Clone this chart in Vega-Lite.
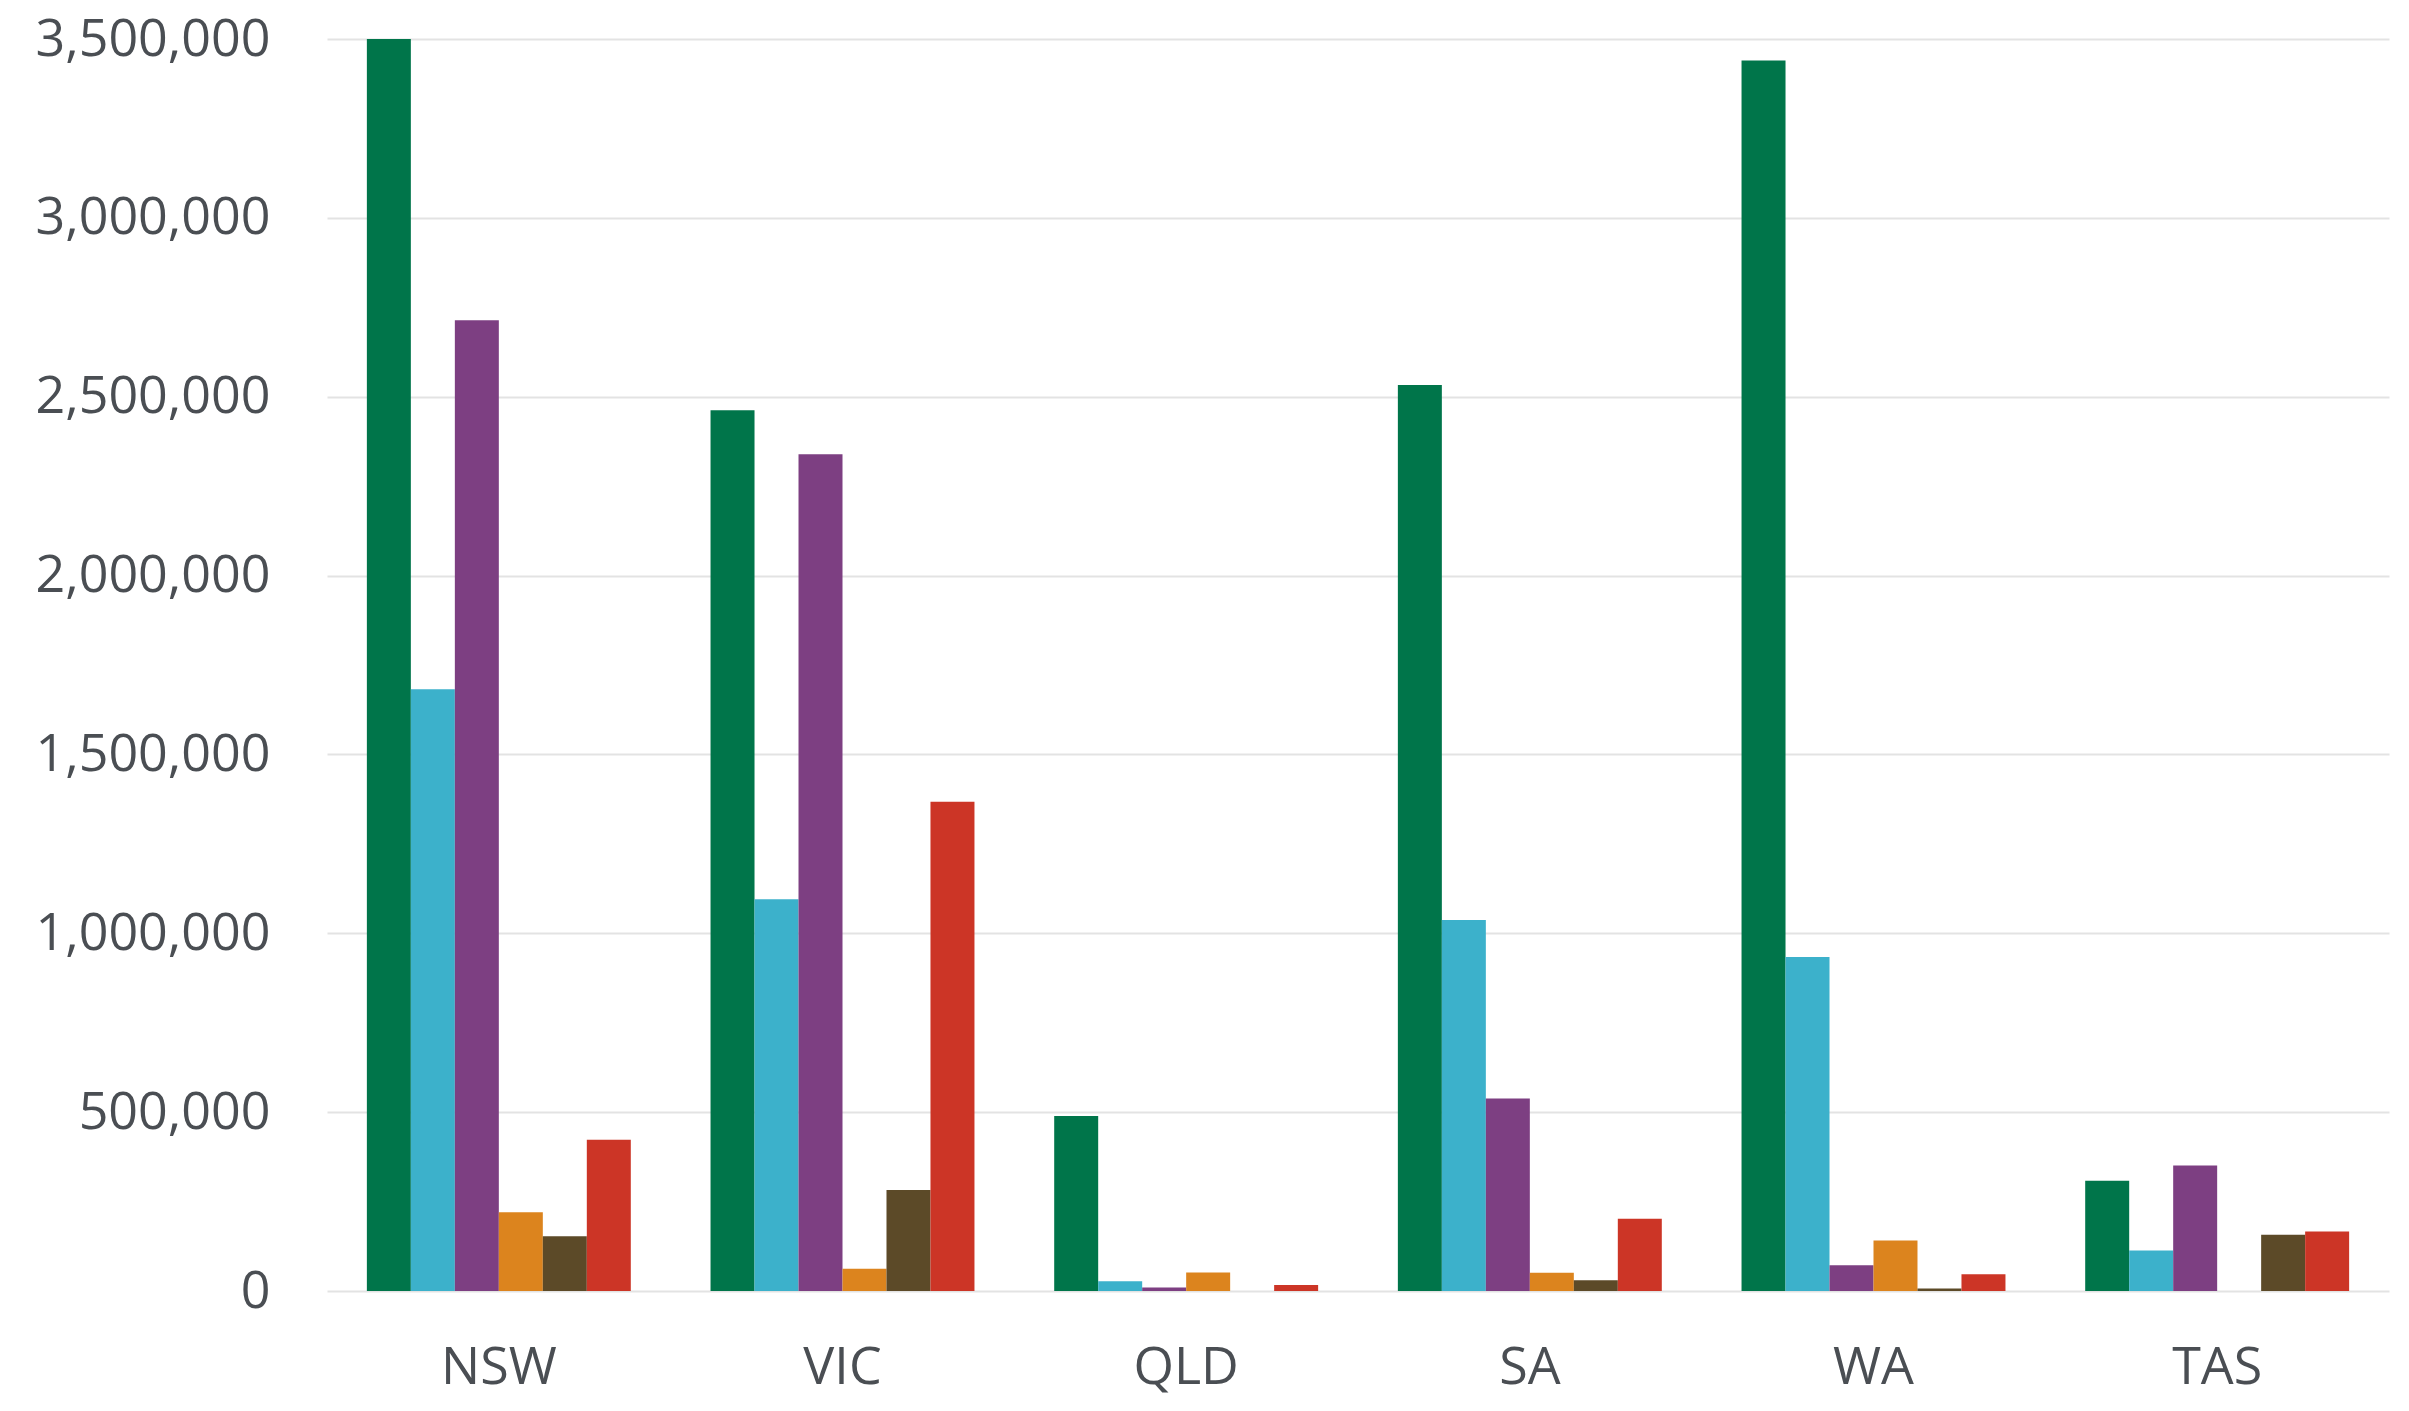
{
  "$schema": "https://vega.github.io/schema/vega-lite/v6.json",
  "width": 2062,
  "height": 1252,
  "autosize": {"type": "none"},
  "padding": {"left": 327, "top": 39, "right": 20, "bottom": 120},
  "background": "#ffffff",
  "config": {
    "view": {"stroke": null},
    "font": "Open Sans"
  },
  "data": {
    "values": [
      {"state": "NSW", "series": "S1", "value": 3500000},
      {"state": "NSW", "series": "S2", "value": 1682000},
      {"state": "NSW", "series": "S3", "value": 2714000},
      {"state": "NSW", "series": "S4", "value": 220000},
      {"state": "NSW", "series": "S5", "value": 153000},
      {"state": "NSW", "series": "S6", "value": 423000},
      {"state": "VIC", "series": "S1", "value": 2462000},
      {"state": "VIC", "series": "S2", "value": 1095000},
      {"state": "VIC", "series": "S3", "value": 2339000},
      {"state": "VIC", "series": "S4", "value": 62000},
      {"state": "VIC", "series": "S5", "value": 282000},
      {"state": "VIC", "series": "S6", "value": 1368000},
      {"state": "QLD", "series": "S1", "value": 489000},
      {"state": "QLD", "series": "S2", "value": 27000},
      {"state": "QLD", "series": "S3", "value": 10000},
      {"state": "QLD", "series": "S4", "value": 52000},
      {"state": "QLD", "series": "S5", "value": 0},
      {"state": "QLD", "series": "S6", "value": 17000},
      {"state": "SA", "series": "S1", "value": 2533000},
      {"state": "SA", "series": "S2", "value": 1037000},
      {"state": "SA", "series": "S3", "value": 538000},
      {"state": "SA", "series": "S4", "value": 51000},
      {"state": "SA", "series": "S5", "value": 30000},
      {"state": "SA", "series": "S6", "value": 202000},
      {"state": "WA", "series": "S1", "value": 3440000},
      {"state": "WA", "series": "S2", "value": 934000},
      {"state": "WA", "series": "S3", "value": 72000},
      {"state": "WA", "series": "S4", "value": 141000},
      {"state": "WA", "series": "S5", "value": 7000},
      {"state": "WA", "series": "S6", "value": 47000},
      {"state": "TAS", "series": "S1", "value": 308000},
      {"state": "TAS", "series": "S2", "value": 113000},
      {"state": "TAS", "series": "S3", "value": 351000},
      {"state": "TAS", "series": "S4", "value": 0},
      {"state": "TAS", "series": "S5", "value": 157000},
      {"state": "TAS", "series": "S6", "value": 166000}
    ]
  },
  "mark": {"type": "bar"},
  "encoding": {
    "x": {
      "field": "state",
      "type": "nominal",
      "sort": ["NSW", "VIC", "QLD", "SA", "WA", "TAS"],
      "scale": {"paddingInner": 0.232, "paddingOuter": 0.116},
      "axis": {
        "title": null,
        "labelAngle": 0,
        "labelFontSize": 52,
        "labelColor": "#4A4E53",
        "labelPadding": 51,
        "labelLimit": 0,
        "ticks": false,
        "domain": false,
        "grid": false
      }
    },
    "xOffset": {
      "field": "series",
      "type": "nominal",
      "scale": {"paddingInner": 0, "paddingOuter": 0}
    },
    "y": {
      "field": "value",
      "type": "quantitative",
      "scale": {"domain": [0, 3500000], "nice": false},
      "axis": {
        "title": null,
        "values": [0, 500000, 1000000, 1500000, 2000000, 2500000, 3000000, 3500000],
        "format": ",d",
        "labelFontSize": 52,
        "labelColor": "#4A4E53",
        "labelPadding": 57,
        "labelLimit": 0,
        "ticks": false,
        "domain": false,
        "grid": true,
        "gridColor": "#E3E3E3",
        "gridWidth": 2
      }
    },
    "color": {
      "field": "series",
      "type": "nominal",
      "scale": {
        "domain": ["S1", "S2", "S3", "S4", "S5", "S6"],
        "range": ["#00754A", "#3CB1CB", "#7D3F82", "#DC841E", "#5C4A28", "#CC3526"]
      },
      "legend": null
    }
  }
}
